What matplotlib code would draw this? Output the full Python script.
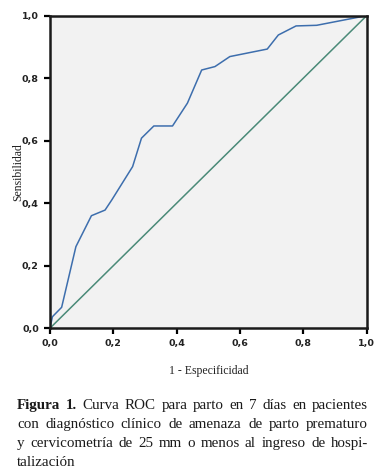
import matplotlib
matplotlib.use('Agg')
from matplotlib import pyplot as plt

# Curva ROC (1 - especificidad, sensibilidad)
fpr = [0.0, 0.008, 0.037, 0.082, 0.131, 0.174, 0.195, 0.261, 0.289, 0.328, 0.387,
       0.434, 0.479, 0.521, 0.568, 0.686, 0.721, 0.777, 0.842, 1.0]
tpr = [0.0, 0.037, 0.067, 0.261, 0.36, 0.378, 0.41, 0.517, 0.608, 0.647, 0.647,
       0.72, 0.826, 0.837, 0.869, 0.893, 0.938, 0.967, 0.969, 1.0]
ref = [0.0, 1.0]
ticks = [0.0, 0.2, 0.4, 0.6, 0.8, 1.0]
tick_labels = ['0,0', '0,2', '0,4', '0,6', '0,8', '1,0']

caption = [
    [('Figura 1.', 'bold'), ('Curva ROC para parto en 7 días en pacientes', 'normal')],
    [('con diagnóstico clínico de amenaza de parto prematuro', 'normal')],
    [('y cervicometría de 25 mm o menos al ingreso de hospi-', 'normal')],
    [('talización', 'normal')],
]

fig = plt.figure(figsize=(3.84, 4.73), dpi=100)
ax = fig.add_axes([0.130, 0.306, 0.825, 0.661])
ax.set_facecolor('#f2f2f2')

ax.plot(fpr, tpr, color='#3d6ead', linewidth=1.1)
ax.plot(ref, ref, color='#4a8a78', linewidth=1.1)

ax.set_xlim(0, 1)
ax.set_ylim(0, 1)
ax.set_xticks(ticks)
ax.set_yticks(ticks)
ax.set_xticklabels(tick_labels, fontsize=6.8, fontweight='bold', color='#222222')
ax.set_yticklabels(tick_labels, fontsize=6.8, fontweight='bold', color='#222222')
ax.tick_params(length=4, width=1.6, pad=4, direction='out', top=False, right=False)
for s in ax.spines.values():
    s.set_linewidth(1.8)
    s.set_color('#1a1a1a')

ax.set_xlabel('1 - Especificidad', fontsize=8.5, family='Liberation Serif',
              color='#222222', labelpad=12)
ax.set_ylabel('Sensibilidad', fontsize=8.5, family='Liberation Serif',
              color='#222222')
ax.yaxis.set_label_coords(-0.08, 0.5)

# Pie de figura justificado
fig.canvas.draw()
renderer = fig.canvas.get_renderer()
x0, x1 = 17 / 384, 368 / 384
fs = 10.8

ys = [409, 428, 447, 466]
for i, (line, y) in enumerate(zip(caption, ys)):
    words = []
    for txt, weight in line:
        for w in txt.split(' '):
            words.append((w, weight))
    arts = []
    for w, weight in words:
        t = fig.text(0, 1 - y / 473, w, fontsize=fs, fontweight=weight,
                     family='Liberation Serif', color='#1a1a1a', va='baseline')
        arts.append(t)
    widths = [a.get_window_extent(renderer).width / fig.bbox.width for a in arts]
    last = i == len(caption) - 1
    if last:
        gap = 0.012
    else:
        gap = (x1 - x0 - sum(widths)) / (len(arts) - 1)
    x = x0
    for a, w in zip(arts, widths):
        a.set_x(x)
        x += w + gap

fig.savefig('out.png', dpi=100)
